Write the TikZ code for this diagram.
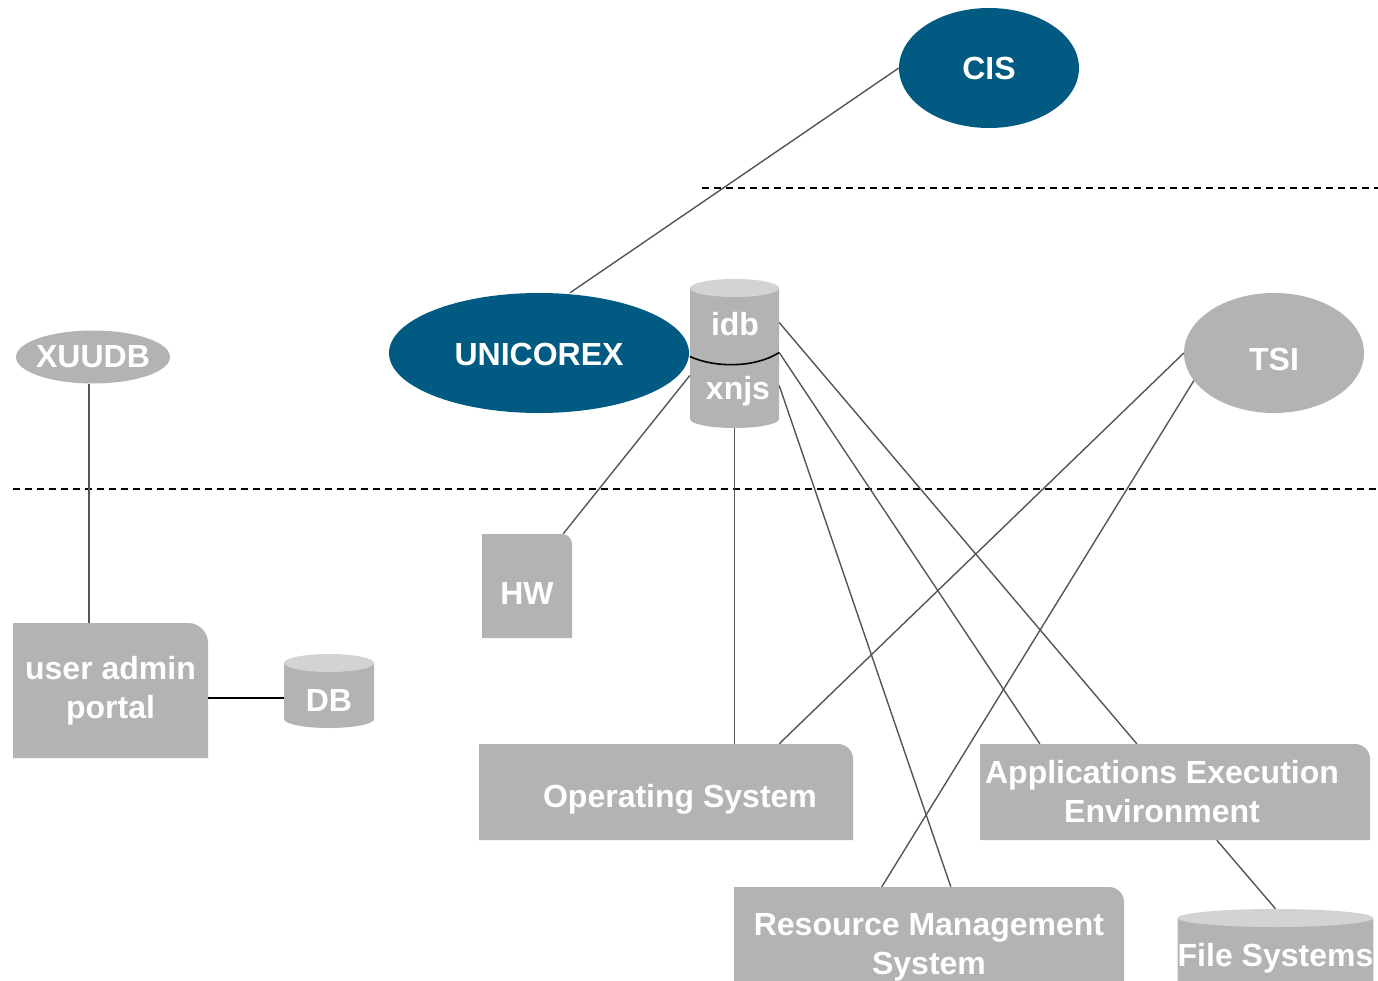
\documentclass[tikz,border=0pt]{standalone}
\usepackage{fontspec}
\setmainfont{Liberation Sans}
\usetikzlibrary{shapes.geometric,calc}
\definecolor{uniblue}{RGB}{0,90,130}
\definecolor{boxgray}{RGB}{179,179,179}
\definecolor{topgray}{RGB}{211,211,211}
\definecolor{wiregray}{RGB}{85,85,85}
\newcommand\lbl{\bfseries\fontsize{32}{39}\selectfont}
\tikzset{
  oval/.style={ellipse, inner sep=0pt, text=white, font=\lbl},
  rbox/.style={rectangle, inner sep=0pt, text=white, font=\lbl, align=center,
    path picture={
      \fill[boxgray] let \p1=(path picture bounding box.south west),
        \p2=(path picture bounding box.north east) in
        (\x1,\y1) -- (\x1,\y2) -- (\x2-#1,\y2)
        arc[start angle=90, end angle=0, radius=#1] -- (\x2,\y1) -- cycle;
    }},
  rbox/.default=15pt,
  cyl/.style={rectangle, inner sep=0pt, text=white, font=\lbl, align=center,
    path picture={
      \fill[boxgray] let \p1=(path picture bounding box.south west),
        \p2=(path picture bounding box.north east), \n1={(\x2-\x1)/2} in
        (\x1,\y2-9pt) -- (\x1,\y1+9pt)
        arc[start angle=180, end angle=360, x radius=\n1, y radius=9pt]
        -- (\x2,\y2-9pt) -- cycle;
      \fill[topgray] let \p1=(path picture bounding box.south west),
        \p2=(path picture bounding box.north east), \n1={(\x2-\x1)/2},
        \n2={(\x1+\x2)/2} in
        (\n2,\y2-9pt) ellipse[x radius=\n1, y radius=9pt];
    }},
  wire/.style={draw=wiregray, line width=1.4pt},
  divider/.style={draw=black, line width=2pt, dash pattern=on 7pt off 5pt}
}
\begin{document}
\begin{tikzpicture}[x=1pt,y=-1pt]
  \useasboundingbox (0,0) rectangle (1378,981);
  % layer separators
  \draw[divider] (702,188) -- (1378,188);
  \draw[divider] (13,489) -- (1378,489);
  % services
  \node[oval, fill=uniblue, minimum width=180pt, minimum height=120pt] (cis) at (989,68) {CIS};
  \node[oval, fill=uniblue, minimum width=300pt, minimum height=120pt, text height=26pt] (unicorex) at (539,353) {UNICOREX};
  \node[oval, fill=boxgray, minimum width=154pt, minimum height=53pt, inner xsep=-4pt] (xuudb) at (93,357) {XUUDB};
  \node[oval, fill=boxgray, minimum width=180pt, minimum height=120pt, text height=35pt] (tsi) at (1274,353) {TSI};
  % storage
  \node[cyl, minimum width=89pt, minimum height=149pt] (store) at (734.5,353.5) {};
  \node[anchor=base, text=white, font=\lbl, inner sep=0pt] (idb) at (735,336) {idb};
  \node[anchor=base, text=white, font=\lbl, inner sep=0pt] (xnjs) at (738,399) {xnjs};
  \draw[black, line width=1.6pt] ([yshift=-3pt]store.west) .. controls (715,368) and (755,368) .. ([yshift=1pt]store.east);
  \node[cyl, minimum width=90pt, minimum height=74pt, text height=41pt] (db) at (329,691) {DB};
  \node[cyl, minimum width=195pt, minimum height=81pt, text height=41pt] (fs) at (1275.5,949.5) {File Systems};
  % target system
  \node[rbox=10pt, minimum width=90pt, minimum height=104pt, text height=37pt] (hw) at (527,586) {HW};
  \node[rbox=20pt, minimum width=195pt, minimum height=135pt] (portal) at (110.5,690.5) {user admin\\portal};
  \node[rbox, minimum width=374pt, minimum height=96pt, text height=38pt] (os) at (666,792) {\hspace*{28pt}Operating System};
  \node[rbox, minimum width=390pt, minimum height=96pt] (aee) at (1175,792) {Applications Execution\hspace*{26pt}\\Environment\hspace*{26pt}};
  \node[rbox, minimum width=390pt, minimum height=112pt, text height=70pt] (rms) at (929,943) {Resource Management\\System};
  % connections
  \draw[wire] (cis.west) -- ([xshift=31pt]unicorex.north);
  \draw[wire] (xuudb.south -| 89,0) -- (portal.north -| 89,0);
  \draw[black, line width=2pt] ([yshift=-7pt]portal.east) -- ([yshift=-7pt]portal.east -| db.west);
  \draw[wire] ([yshift=-22pt]store.west) -- ([xshift=-9pt]hw.north east);
  \draw[wire] (store.south) -- (store.south |- os.north);
  \draw[wire] ([yshift=31pt]store.east) -- ([xshift=157pt]aee.north west);
  \draw[wire] ([yshift=1pt]store.east) -- ([xshift=60pt]aee.north west);
  \draw[wire] ([yshift=-32pt]store.east) -- ([xshift=217pt]rms.north west);
  \draw[wire] (tsi.west) -- ([xshift=-74pt]os.north east);
  \draw[wire] (tsi.199) -- ([xshift=148pt]rms.north west);
  \draw[wire] ([xshift=237pt]aee.south west) -- (fs.north);
\end{tikzpicture}
\end{document}
